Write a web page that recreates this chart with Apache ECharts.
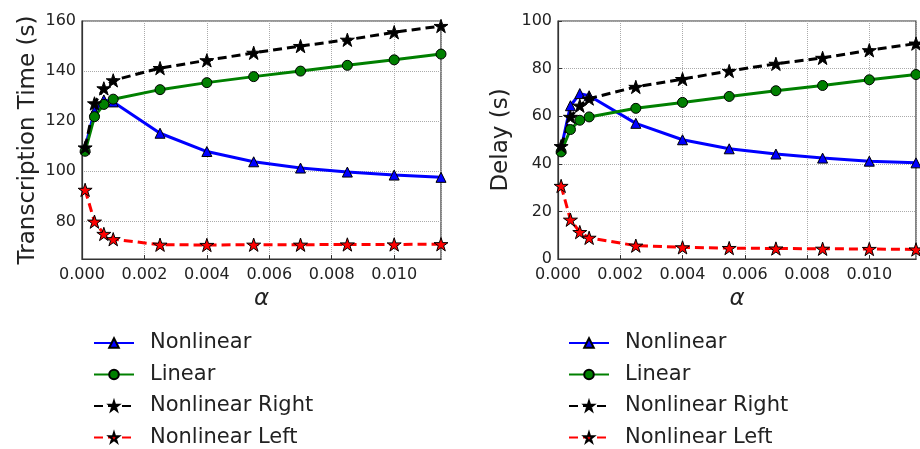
<!DOCTYPE html>
<html>
<head>
<meta charset="utf-8">
<title>Transcription time and delay vs alpha</title>
<script src="https://cdn.jsdelivr.net/npm/echarts@6/dist/echarts.min.js"></script>
<style>
    html, body { margin: 0; padding: 0; background: #fff; }
    #chartDiv { width: 920px; height: 449px; }
</style>
</head>
<body>
<div id="chartDiv"></div>
<script>

/* alpha values on x axis */
var alphaList = [0.0001, 0.0004, 0.0007, 0.001, 0.0025, 0.004, 0.0055, 0.007, 0.0085, 0.01, 0.0115];

var seriesNames = ['Nonlinear', 'Linear', 'Nonlinear Right', 'Nonlinear Left'];

/* left plot : transcription time (s) */
var timeNonlinear      = [109.5, 124, 128.5, 127.7, 115.2, 107.9, 103.8, 101.3, 99.7, 98.5, 97.6];
var timeLinear         = [108, 121.8, 126.7, 128.8, 132.6, 135.4, 137.8, 140, 142.3, 144.5, 146.8];
var timeNonlinearRight = [109.5, 127.1, 133.1, 136.3, 141.2, 144.3, 147.3, 150, 152.5, 155.5, 158];
var timeNonlinearLeft  = [92.6, 79.9, 75, 72.9, 70.7, 70.6, 70.7, 70.7, 70.8, 70.8, 70.9];

/* right plot : delay (s) */
var delayNonlinear      = [46.5, 64.4, 69.5, 68.6, 57, 50.1, 46.3, 44.1, 42.4, 41.1, 40.4];
var delayLinear         = [45, 54.4, 58.3, 59.7, 63.3, 65.8, 68.3, 70.7, 72.9, 75.3, 77.5];
var delayNonlinearRight = [47.4, 59.7, 64.4, 67.4, 72.3, 75.6, 79, 82, 84.5, 87.7, 90.5];
var delayNonlinearLeft  = [30.7, 16.5, 11.3, 8.9, 5.6, 4.9, 4.6, 4.4, 4.3, 4.2, 4.0];

/* tick labels */
var xTicks = [0, 0.002, 0.004, 0.006, 0.008, 0.010];
var timeTicks = [80, 100, 120, 140, 160];
var delayTicks = [0, 20, 40, 60, 80, 100];

var starPath = 'path://M100,0 L122.45,69.1 L195.1,69.1 L136.3,111.8 L158.8,180.9 L100,138.2 L41.2,180.9 L63.7,111.8 L4.9,69.1 L77.55,69.1 Z';

function pairs(vals) {
    var arr = [];
    for (var i = 0; i < alphaList.length; i++) {
        arr.push([alphaList[i], vals[i]]);
    }
    return arr;
}

function makeSeries(idx, n0, n1, n2, n3) {
    return [
        {
            name: 'Nonlinear', type: 'line', xAxisIndex: idx, yAxisIndex: idx,
            data: pairs(n0), symbol: 'triangle', symbolSize: 10,
            lineStyle: { color: '#0000ff', width: 3 },
            itemStyle: { color: '#0000ff', borderColor: '#000', borderWidth: 1 }
        },
        {
            name: 'Linear', type: 'line', xAxisIndex: idx, yAxisIndex: idx,
            data: pairs(n1), symbol: 'circle', symbolSize: 10,
            lineStyle: { color: '#008000', width: 3 },
            itemStyle: { color: '#008000', borderColor: '#000', borderWidth: 1 }
        },
        {
            name: 'Nonlinear Right', type: 'line', xAxisIndex: idx, yAxisIndex: idx,
            data: pairs(n2), symbol: starPath, symbolSize: 14, symbolKeepAspect: true,
            lineStyle: { color: '#000', width: 3, type: [9, 5] },
            itemStyle: { color: '#000', borderColor: '#000', borderWidth: 1 }
        },
        {
            name: 'Nonlinear Left', type: 'line', xAxisIndex: idx, yAxisIndex: idx,
            data: pairs(n3), symbol: starPath, symbolSize: 14, symbolKeepAspect: true,
            lineStyle: { color: '#ff0000', width: 3, type: [9, 5] },
            itemStyle: { color: '#ff0000', borderColor: '#000', borderWidth: 1 }
        }
    ];
}

function makeXAxis(idx) {
    return {
        type: 'value', gridIndex: idx, min: 0, max: 0.0115, interval: 0.002,
        name: 'α', nameLocation: 'middle', nameGap: 29,
        nameTextStyle: { fontSize: 23, fontStyle: 'italic', color: '#222', fontFamily: 'DejaVu Sans' },
        axisLine: { lineStyle: { color: '#333', width: 1.2 } },
        axisTick: { inside: true, length: 4, lineStyle: { color: '#333' } },
        axisLabel: {
            fontSize: 16, color: '#222', fontFamily: 'DejaVu Sans', margin: 8,
            showMaxLabel: false,
            formatter: function (v) {
                for (var i = 0; i < xTicks.length; i++) {
                    if (Math.abs(v - xTicks[i]) < 1e-9) return xTicks[i].toFixed(3);
                }
                return '';
            }
        },
        splitLine: { show: true, lineStyle: { color: '#aaa', type: 'dotted', width: 1 } }
    };
}

function tickLabel(ticks) {
    return function (v) {
        return ticks.indexOf(v) >= 0 ? String(v) : '';
    };
}

function makeLegend(x) {
    return {
        data: seriesNames, orient: 'vertical', left: x, top: 332, padding: 0,
        itemWidth: 40, itemHeight: 12, itemGap: 9.5,
        textStyle: { fontSize: 21, color: '#222', lineHeight: 22, padding: [0, 0, 0, 11] }
    };
}

var option = {
    backgroundColor: '#fff',
    animation: false,
    textStyle: { fontFamily: 'DejaVu Sans' },
    grid: [
        { left: 82, top: 21, width: 359, height: 238, show: true, borderColor: '#333', borderWidth: 1.2 },
        { left: 558, top: 21, width: 358, height: 238, show: true, borderColor: '#333', borderWidth: 1.2 }
    ],
    xAxis: [makeXAxis(0), makeXAxis(1)],
    yAxis: [
        {
            /* step of 5 so the bottom can sit at 65, only every 4th line is drawn */
            type: 'value', gridIndex: 0, min: 65, max: 160, interval: 5,
            name: 'Transcription Time (s)', nameLocation: 'middle', nameGap: 42,
            nameTextStyle: { fontSize: 23, color: '#222' },
            axisLine: { show: true, lineStyle: { color: '#333', width: 1.2 } },
            axisTick: { show: false },
            axisLabel: { fontSize: 16, color: '#222', margin: 6, formatter: tickLabel(timeTicks) },
            splitLine: { show: true, lineStyle: { color: ['transparent', 'transparent', 'transparent', '#aaa'], type: 'dotted', width: 1 } }
        },
        {
            type: 'value', gridIndex: 1, min: 0, max: 100, interval: 20,
            name: 'Delay (s)', nameLocation: 'middle', nameGap: 45,
            nameTextStyle: { fontSize: 23, color: '#222' },
            axisLine: { show: true, lineStyle: { color: '#333', width: 1.2 } },
            axisTick: { show: true, inside: true, length: 4, lineStyle: { color: '#333' } },
            axisLabel: { fontSize: 16, color: '#222', margin: 6, formatter: tickLabel(delayTicks) },
            splitLine: { show: true, lineStyle: { color: '#aaa', type: 'dotted', width: 1 } }
        }
    ],
    legend: [makeLegend(93), makeLegend(568)],
    series: makeSeries(0, timeNonlinear, timeLinear, timeNonlinearRight, timeNonlinearLeft)
        .concat(makeSeries(1, delayNonlinear, delayLinear, delayNonlinearRight, delayNonlinearLeft))
};

var chart = echarts.init(document.getElementById('chartDiv'), null, { renderer: 'canvas' });
chart.setOption(option);

</script>
</body>
</html>
